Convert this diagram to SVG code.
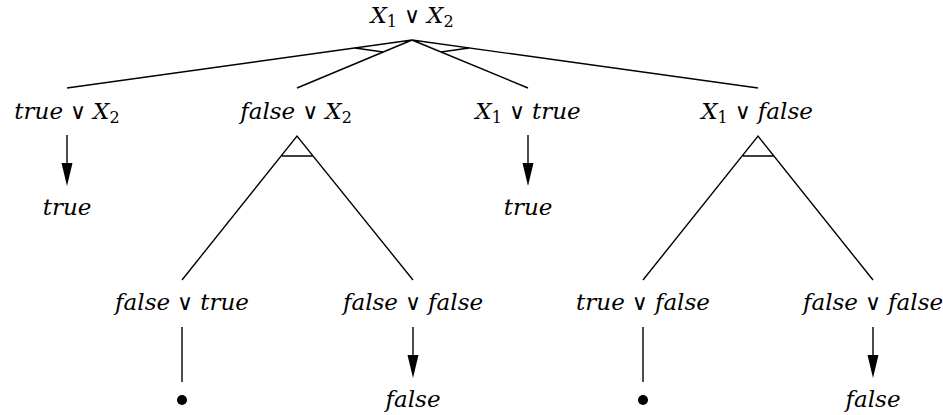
<svg xmlns="http://www.w3.org/2000/svg" width="943" height="415" viewBox="0 0 943 415">
<style>
text{font-family:"DejaVu Serif",serif;font-size:23px;font-style:italic;fill:#000;text-anchor:middle}
.r{font-style:normal;font-size:22px}
.s{font-style:normal;font-size:16px}
.ln{stroke:#000;stroke-width:1.4;fill:none}
</style>
<defs>
<marker id="ah" markerUnits="userSpaceOnUse" markerWidth="24" markerHeight="12" refX="13" refY="5.5" orient="auto">
<path d="M0,0 L23,5.5 L0,11 z" fill="#000"/>
</marker>
</defs>
<rect width="943" height="415" fill="#fff"/>
<g id="connectors">
<path class="ln" d="M412,40 L67,88 M412,40 L297,88 M412,40 L528,88 M412,40 L758,88"/>
<path class="ln" d="M355,48 L383,52 M441,52 L469,48"/>
<path class="ln" d="M67,135 L67,176" marker-end="url(#ah)"/>
<path class="ln" d="M528,135 L528,176" marker-end="url(#ah)"/>
<path class="ln" d="M182,280 L297,136 L413,280 M282,156 L313,156"/>
<path class="ln" d="M643,280 L758,136 L873,280 M743,156 L774,156"/>
<path class="ln" d="M182,327 L182,382"/>
<path class="ln" d="M643,327 L643,382"/>
<path class="ln" d="M413,327 L413,368" marker-end="url(#ah)"/>
<path class="ln" d="M873,327 L873,368" marker-end="url(#ah)"/>
</g>
<g id="root"><text x="412" y="23">X<tspan class="s" dy="4">1</tspan><tspan class="r" dy="-4"> ∨ </tspan>X<tspan class="s" dy="4">2</tspan></text></g>
<g id="n1"><text x="67" y="119">true<tspan class="r"> ∨ </tspan>X<tspan class="s" dy="4">2</tspan></text></g>
<g id="n2"><text x="296" y="119">false<tspan class="r"> ∨ </tspan>X<tspan class="s" dy="4">2</tspan></text></g>
<g id="n3"><text x="528" y="119">X<tspan class="s" dy="4">1</tspan><tspan class="r" dy="-4"> ∨ </tspan>true</text></g>
<g id="n4"><text x="757" y="119">X<tspan class="s" dy="4">1</tspan><tspan class="r" dy="-4"> ∨ </tspan>false</text></g>
<g id="n1a"><text x="67" y="215">true</text></g>
<g id="n3a"><text x="528" y="215">true</text></g>
<g id="n2a"><text x="182" y="310">false<tspan class="r"> ∨ </tspan>true</text></g>
<g id="n2b"><text x="413" y="310">false<tspan class="r"> ∨ </tspan>false</text></g>
<g id="n4a"><text x="643" y="310">true<tspan class="r"> ∨ </tspan>false</text></g>
<g id="n4b"><text x="873" y="310">false<tspan class="r"> ∨ </tspan>false</text></g>
<g id="d1"><circle cx="182" cy="400" r="5" fill="#000"/></g>
<g id="d2"><circle cx="643" cy="400" r="5" fill="#000"/></g>
<g id="n2b1"><text x="413" y="407">false</text></g>
<g id="n4b1"><text x="873" y="407">false</text></g>
</svg>
